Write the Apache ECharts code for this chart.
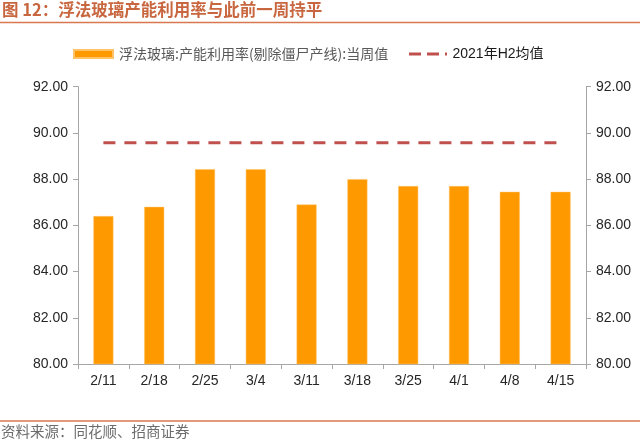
<!DOCTYPE html>
<html>
<head>
<meta charset="utf-8">
<script src="https://cdn.jsdelivr.net/npm/echarts@6/dist/echarts.min.js"></script>
<style>
html,body{margin:0;padding:0;background:#fff;}
#chart{width:640px;height:442px;}
</style>
</head>
<body>
<div id="chart"></div>
<script>
const categories = ['2/11','2/18','2/25','3/4','3/11','3/18','3/25','4/1','4/8','4/15'];
const weeklyValues = [86.40, 86.80, 88.43, 88.43, 86.90, 88.00, 87.70, 87.70, 87.45, 87.45];
const h2Average = [89.57, 89.57, 89.57, 89.57, 89.57, 89.57, 89.57, 89.57, 89.57, 89.57];
const yTicks = {min: 80, max: 92, interval: 2};
const barName = '浮法玻璃:产能利用率(剔除僵尸产线):当周值';
const lineName = '2021年H2均值';

const chart = echarts.init(document.getElementById('chart'), null, {renderer: 'canvas'});
const axisColor = '#A6A6A6';
const labelFont = {fontFamily: 'Liberation Sans, Arial, sans-serif', fontSize: 14, color: '#262626'};
const yAxisCommon = {
  type: 'value', min: yTicks.min, max: yTicks.max, interval: yTicks.interval,
  axisLine: {show: true, lineStyle: {color: axisColor, width: 1}},
  axisTick: {show: true, length: 5, lineStyle: {color: axisColor}},
  splitLine: {show: false},
  axisLabel: Object.assign({formatter: v => v.toFixed(2), margin: 10}, labelFont)
};
chart.setOption({
  animation: false,
  backgroundColor: '#fff',
  title: {
    text: '图 12：浮法玻璃产能利用率与此前一周持平',
    left: 0, top: 1, padding: [0, 0, 0, 2],
    textStyle: {fontFamily: 'Noto Sans CJK SC', fontSize: 16.5, fontWeight: 'bold', color: '#C8663F'}
  },
  graphic: [
    {type: 'line', shape: {x1: 0, y1: 22.5, x2: 640, y2: 22.5}, style: {stroke: '#D9784F', lineWidth: 1.5}},
    {type: 'line', shape: {x1: 0, y1: 421, x2: 640, y2: 421}, style: {stroke: '#D9784F', lineWidth: 1.5}},
    {type: 'text', left: 1, top: 424, style: {text: '资料来源：同花顺、招商证券', fontFamily: 'Noto Sans CJK SC', fontSize: 14.5, fill: '#6b6b6b'}}
  ],
  legend: [
    {
      data: [{name: barName, icon: 'rect'}], left: 73, top: 47, padding: 0, itemWidth: 39, itemHeight: 8, itemGap: 6,
      textStyle: {fontFamily: 'Noto Sans CJK SC', fontSize: 14, color: '#595959', padding: [0, 0, 0, 1]}
    },
    {
      data: [{name: lineName, icon: 'path://M0,0 L12,0 L12,3 L0,3 Z M18,0 L30,0 L30,3 L18,3 Z M36,0 L38,0 L38,3 L36,3 Z'}],
      left: 409, top: 47, padding: 0, itemWidth: 39, itemHeight: 3, itemGap: 5,
      textStyle: {fontFamily: 'Liberation Sans, Arial, Noto Sans CJK SC, sans-serif', fontSize: 14, color: '#1a1a1a'}
    }
  ],
  grid: {left: 78, right: 54, top: 86.7, bottom: 78, containLabel: false},
  xAxis: {
    type: 'category', data: categories,
    axisLine: {show: true, lineStyle: {color: axisColor}},
    axisTick: {show: true, length: 5, alignWithLabel: false, lineStyle: {color: axisColor}},
    axisLabel: Object.assign({margin: 10, interval: 0}, labelFont)
  },
  yAxis: [
    Object.assign({position: 'left'}, yAxisCommon),
    Object.assign({position: 'right'}, yAxisCommon)
  ],
  series: [
    {
      name: barName, type: 'bar', data: weeklyValues, barWidth: 20,
      itemStyle: {color: '#FF9900', borderColor: '#FFC266', borderWidth: 0.5}
    },
    {
      name: lineName, type: 'line', data: h2Average, symbol: 'none',
      itemStyle: {color: '#C0504D'},
      lineStyle: {color: '#C0504D', width: 3, type: [12, 9]}
    }
  ]
});
</script>
</body>
</html>
